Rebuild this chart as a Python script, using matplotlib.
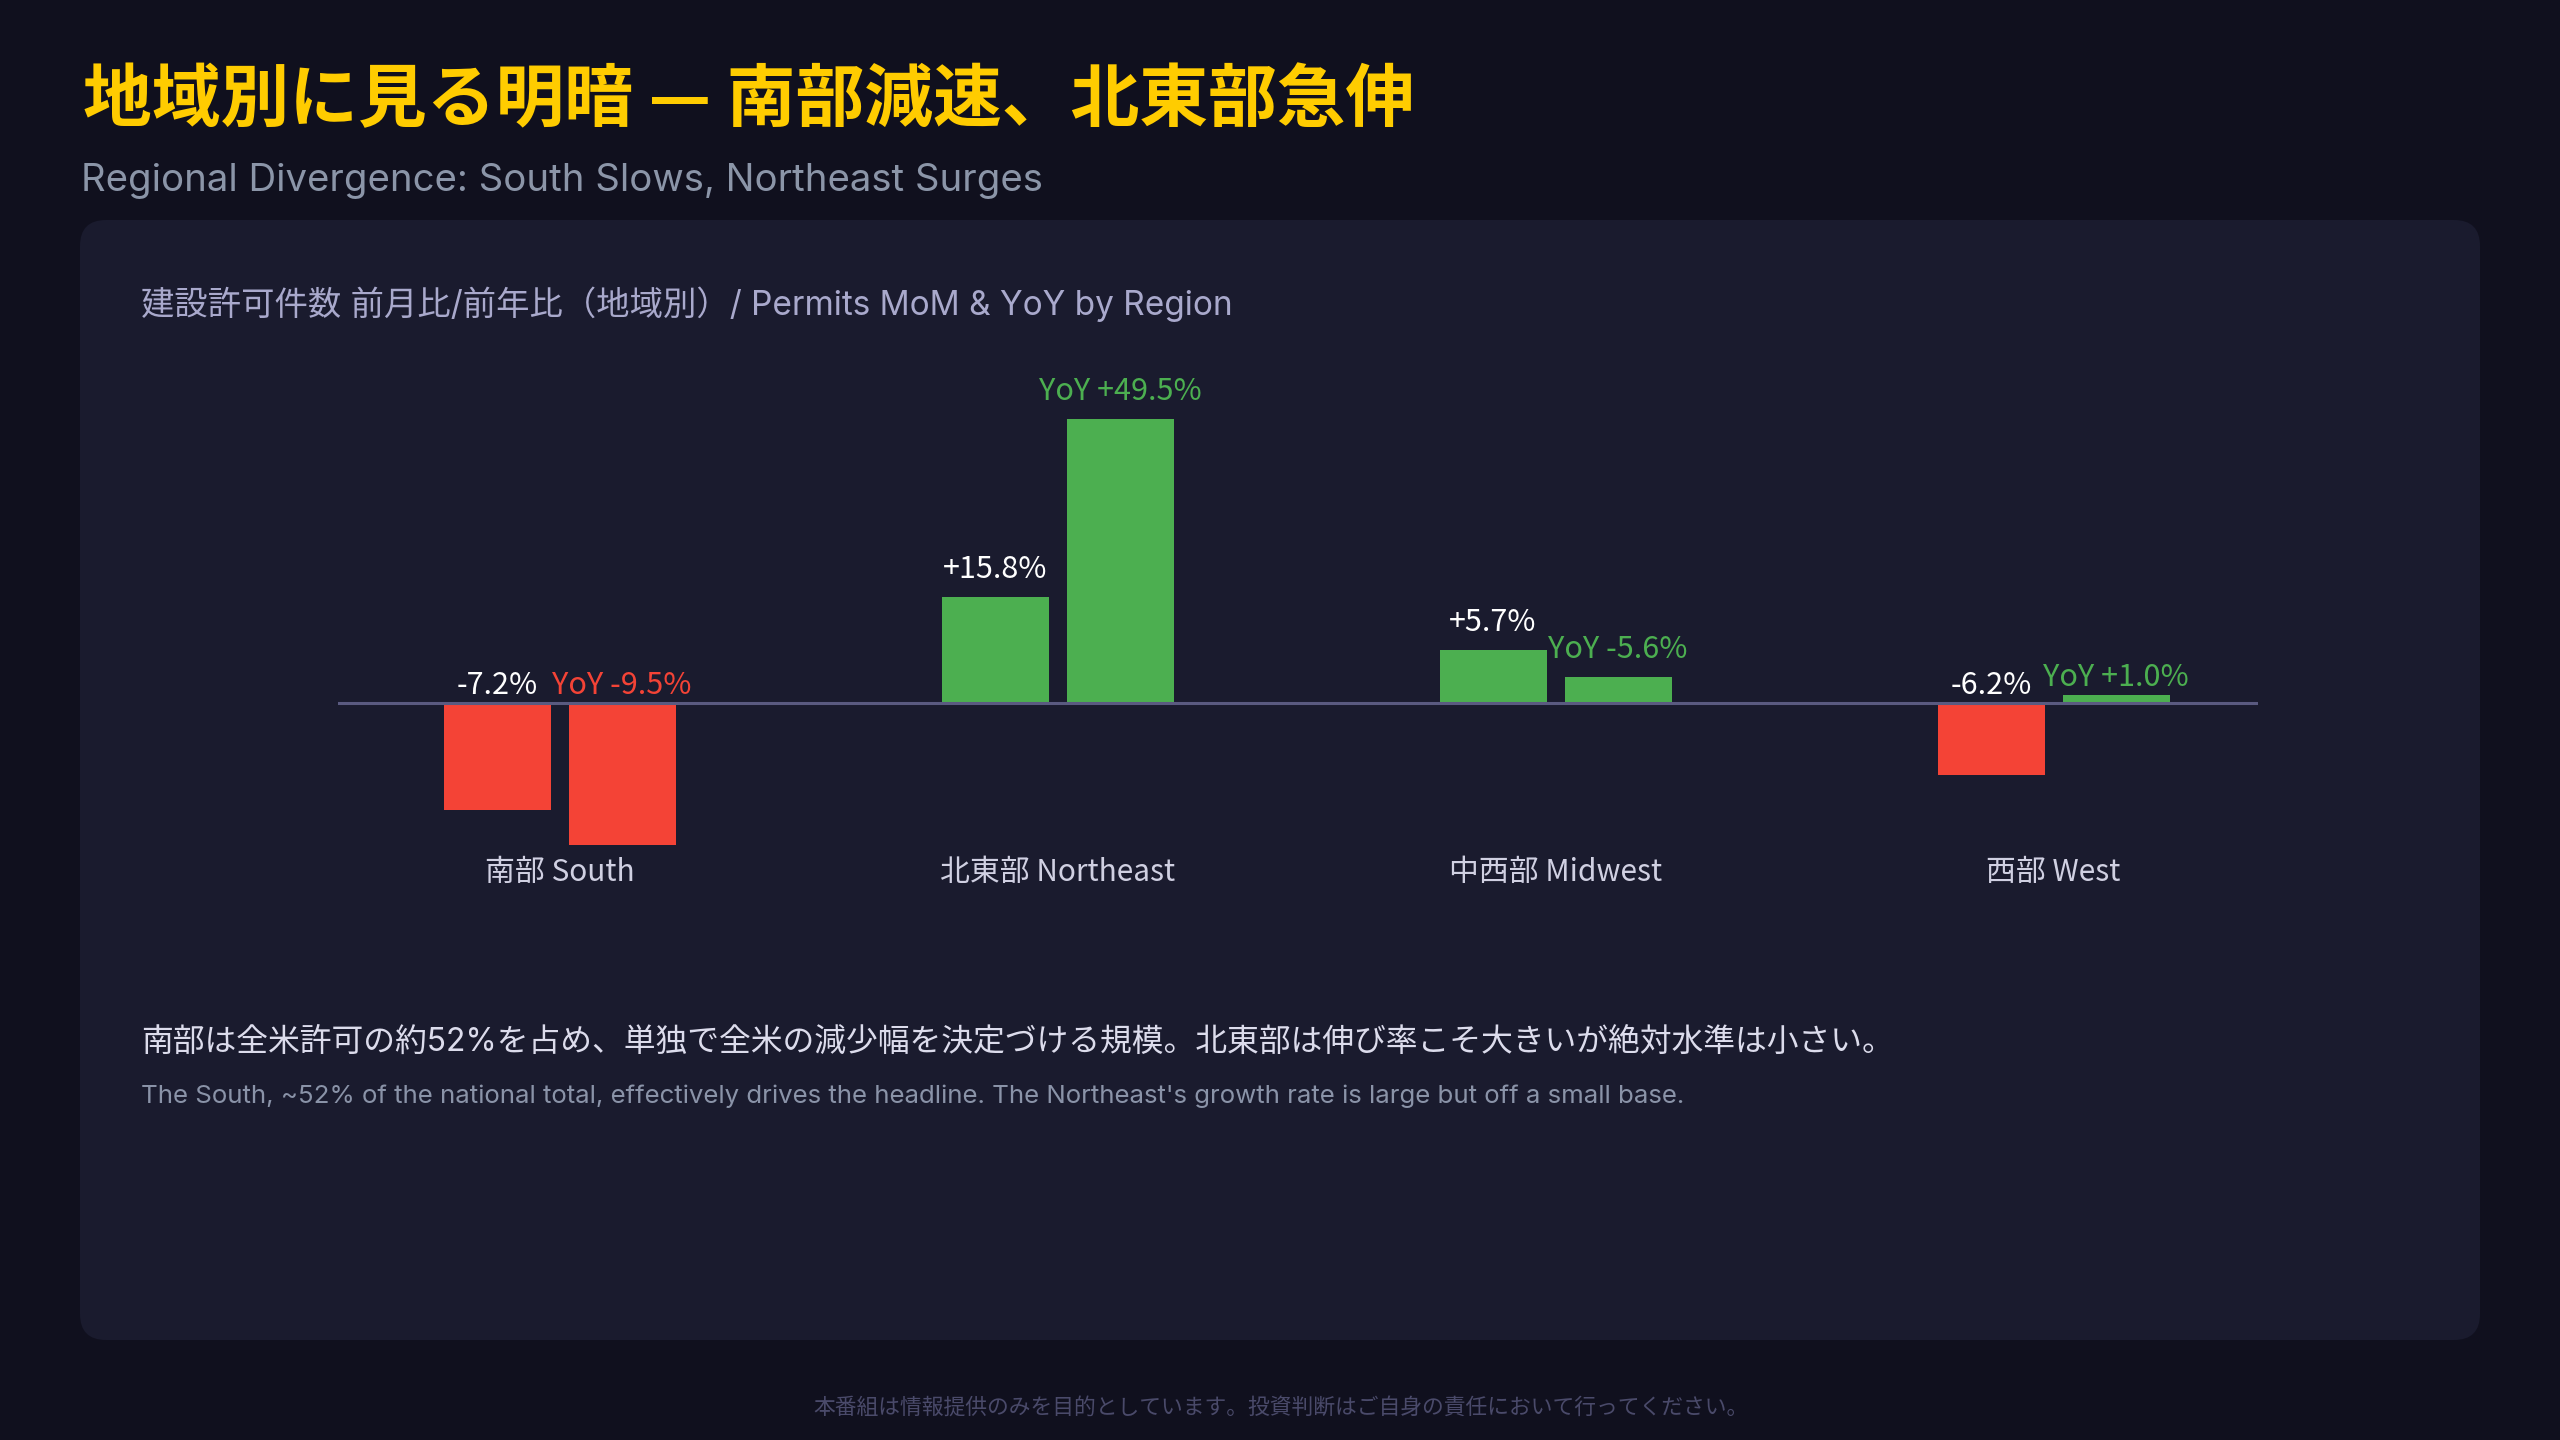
import matplotlib.pyplot as plt
from matplotlib.patches import FancyBboxPatch
import numpy as np

plt.rcParams['font.family'] = ['Inter', 'Noto Sans CJK JP']
CJK = ['Noto Sans CJK JP', 'DejaVu Sans']

# data
regions = ['南部 South', '北東部 Northeast', '中西部 Midwest', '西部 West']
mom_labels = ['-7.2%', '+15.8%', '+5.7%', '-6.2%']
yoy_labels = ['YoY -9.5%', 'YoY +49.5%', 'YoY -5.6%', 'YoY +1.0%']
# bar heights as drawn in the reference (chart units)
mom_bars = [-7.2, 7.13, 3.57, -4.85]
yoy_bars = [-9.55, 19.1, 1.75, 0.55]

BG = '#10101e'
PANEL = '#1a1b2e'
RED = '#f44336'
GREEN = '#4caf50'

fig = plt.figure(figsize=(25.6, 14.4), dpi=100)
fig.patch.set_facecolor(BG)

# background layer in pixel coordinates
bg = fig.add_axes([0, 0, 1, 1], zorder=0)
bg.set_xlim(0, 2560)
bg.set_ylim(1440, 0)
bg.axis('off')
bg.add_patch(FancyBboxPatch((80, 220), 2400, 1120,
                            boxstyle='round,pad=0,rounding_size=26',
                            fc=PANEL, ec='none'))

bg.text(83, 121, '地域別に見る明暗 — 南部減速、北東部急伸', color='#ffcc00',
        fontsize=49.5, fontweight='bold', va='baseline', ha='left', family=CJK)
bg.text(81, 191, 'Regional Divergence: South Slows, Northeast Surges',
        color='#8b95a8', fontsize=27.6, va='baseline', ha='left')
bg.text(141, 315, '建設許可件数 前月比/前年比（地域別）/ Permits MoM & YoY by Region',
        color='#a9a9cc', fontsize=24, va='baseline', ha='left')
bg.text(141, 1051, '南部は全米許可の約52%を占め、単独で全米の減少幅を決定づける規模。'
        '北東部は伸び率こそ大きいが絶対水準は小さい。',
        color='#dcdcec', fontsize=22.9, va='baseline', ha='left')
bg.text(141, 1103, "The South, ~52% of the national total, effectively drives the headline. "
        "The Northeast's growth rate is large but off a small base.",
        color='#8a93a8', fontsize=18.6, va='baseline', ha='left')
bg.text(1281, 1414, '本番組は情報提供のみを目的としています。投資判断はご自身の責任において行ってください。',
        color='#4a4a6a', fontsize=15.7, va='baseline', ha='center', family=CJK)

# bar chart
ax = fig.add_axes([338 / 2560, 590 / 1440, 1920 / 2560, 470 / 1440], zorder=1)
ax.patch.set_alpha(0)
px = 14.86  # pixels per chart unit
ax.set_ylim(-(850 - 703) / px, (703 - 380) / px)
ax.set_xlim(-0.4448, 3.4106)

x = np.arange(len(regions))
w = 0.2149
off = 0.1255
mom_cols = [GREEN if v > 0 else RED for v in mom_bars]
yoy_cols = [GREEN if v > 0 else RED for v in yoy_bars]
ax.bar(x - off, mom_bars, w, color=mom_cols, zorder=2)
ax.bar(x + off, yoy_bars, w, color=yoy_cols, zorder=2)
ax.axhline(0, color='#5a5a80', lw=2.2, zorder=3)

def label(xpos, h, text, color):
    pad = 19 if h > 1 else 9
    ax.annotate(text, (xpos, max(h, 0)), xytext=(0, pad * 0.72),
                textcoords='offset points', ha='center', va='baseline',
                color=color, fontsize=22, family=CJK, zorder=4)

for i in range(len(regions)):
    label(x[i] - off, mom_bars[i], mom_labels[i], 'white')
    label(x[i] + off, yoy_bars[i], yoy_labels[i], yoy_cols[i])

ax.set_xticks(x, regions)
ax.tick_params(axis='x', length=0, pad=5, labelsize=21.5, labelcolor='#d0d0e2')
for t in ax.get_xticklabels():
    t.set_family(CJK)
ax.set_yticks([])
for s in ax.spines.values():
    s.set_visible(False)

plt.savefig('out.png', dpi=100, facecolor=BG)
